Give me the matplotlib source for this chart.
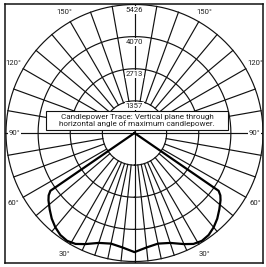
import numpy as np
import matplotlib
matplotlib.use("Agg")
import matplotlib.pyplot as plt
from matplotlib.patches import Rectangle

# ring values (candela) and label angles
rings = [1357, 2713, 4070, 5426]
deg_labels = [30, 60, 120, 150]
upper_lines = [100, 110, 120, 130, 140, 150, 160, 170]
lower_lines = [6, 12, 18, 24, 30, 40, 50, 60, 70, 80]

# candlepower trace, angle from nadir (deg) / candela, mirrored both sides
trace_deg = [0, 6, 12, 18, 24, 28, 32, 36, 40, 44, 48, 52, 54, 55.5, 56.5]
trace_cd = [5030, 4860, 4775, 4880, 5135, 5305, 5370, 5325, 5200, 5030, 4820, 4610, 4480, 4310, 0]

W, H = 266, 267
cx, cy = 134.5, 133.0          # centre in pixels
k = 5426 / 128.5               # candela per pixel
fl, fr, ft, fb = 5, 262.5, 4, 263   # frame in pixels


def xy(deg, r):
    t = np.radians(np.asarray(deg, float))
    r = np.asarray(r, float)
    return r * np.sin(t), -r * np.cos(t)


fig = plt.figure(figsize=(W / 100, H / 100), dpi=100)
ax = fig.add_axes([fl / W, 1 - fb / H, (fr - fl) / W, (fb - ft) / H])
ax.set_xlim((fl - cx) * k, (fr - cx) * k)
ax.set_ylim(-(fb - cy) * k, (cy - ft) * k)
ax.set_xticks([])
ax.set_yticks([])
for s in ax.spines.values():
    s.set_linewidth(1.1)
    s.set_color("#111111")

lw = 0.85
col = "#111111"

# rings
t = np.linspace(0, 360, 721)
for r in rings:
    x, y = xy(t, np.full_like(t, r))
    ax.plot(x, y, color=col, lw=lw, zorder=2)

# radial lines
for a in upper_lines + lower_lines:
    for s in (1, -1):
        x, y = xy([s * a, s * a], [rings[0], rings[-1]])
        ax.plot(x, y, color=col, lw=lw, zorder=2)

# vertical and horizontal axes
x, y = xy([0, 180], [rings[-1], rings[-1]])
ax.plot(x, y, color=col, lw=lw, zorder=2)
ax.axhline(0, color=col, lw=lw, zorder=2)

# trace
td = np.array(trace_deg)
tc = np.array(trace_cd)
full_deg = np.concatenate([-td[::-1], td[1:]])
full_cd = np.concatenate([tc[::-1], tc[1:]])
x, y = xy(full_deg, full_cd)
ax.plot(x, y, color="black", lw=1.6, zorder=4, solid_joinstyle="round")

fnt = "Roboto"
bb = dict(facecolor="white", edgecolor="none", pad=0.6)

# ring value labels
for r in rings:
    ax.text(0, r - 2.2 * k, str(r), ha="center", va="top", fontsize=5.6,
            family=fnt, color="#222222", bbox=bb, zorder=5)

# degree labels
for a in deg_labels:
    for s in (1, -1):
        x, y = xy(s * a, 140 * k)
        ax.text(x, y, f"{a}°", ha="center", va="center", fontsize=5.6,
                family=fnt, color="#222222", zorder=5)
for s in (1, -1):
    x, y = xy(s * 90, 120 * k)
    ax.text(x, y, "90°", ha="center", va="center", fontsize=5.6,
            family=fnt, color="#222222", bbox=bb, zorder=5)

# caption box
bx0, bx1, by0, by1 = 46, 228, 111, 130
ax.add_patch(Rectangle(((bx0 - cx) * k, (cy - by1) * k), (bx1 - bx0) * k, (by1 - by0) * k,
                       facecolor="white", edgecolor=col, lw=0.8, zorder=6))
ax.text(((bx0 + bx1) / 2 - cx) * k, (cy - (by0 + by1) / 2) * k,
        "Candlepower Trace: Vertical plane through\nhorizontal angle of maximum candlepower.",
        ha="center", va="center", fontsize=5.9, family=fnt, color="#222222",
        linespacing=1.05, zorder=7)

fig.savefig("out.png", dpi=100)
